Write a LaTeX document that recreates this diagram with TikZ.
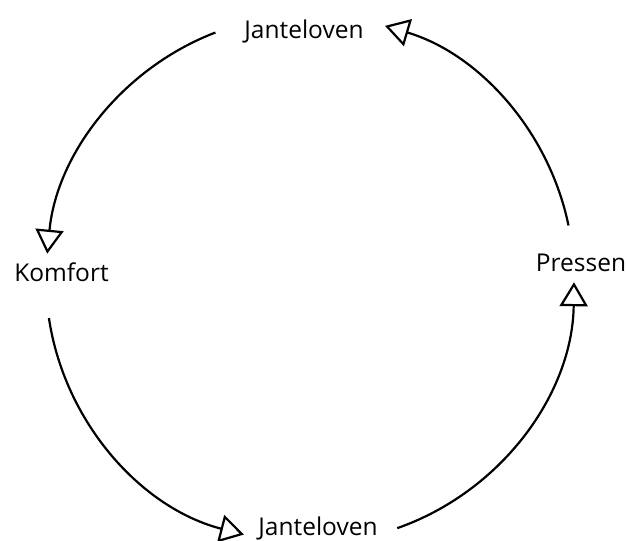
\documentclass[tikz,border=0pt]{standalone}
\usepackage{fontspec}
\setmainfont{Open Sans}
\usetikzlibrary{arrows.meta}
\begin{document}
\begin{tikzpicture}[x=1pt,y=1pt,
  lbl/.style={anchor=base,inner sep=0pt,font=\fontsize{24.5}{28}\selectfont},
  conn/.style={line width=2.2pt,-{Triangle[open,length=24pt,width=28pt,line width=2.2pt]}}]
\useasboundingbox (0,0) rectangle (627,541);
\coordinate (c) at (310,262);
\node[lbl] (jtop) at (304,502) {Janteloven};
\node[lbl] (komf) at (61.5,259) {Komfort};
\node[lbl] (pres) at (581,269) {Pressen};
\node[lbl] (jbot) at (318,5) {Janteloven};
\coordinate (s1) at ([shift={(111:264pt)}]c);
\coordinate (s2) at ([shift={(188.5:264pt)}]c);
\coordinate (s3) at ([shift={(289.3:264pt)}]c);
\coordinate (s4) at ([shift={(11.7:264pt)}]c);
\draw[conn] (s1) arc[start angle=111,end angle=174.5,radius=264pt];
\draw[conn] (s2) arc[start angle=188.5,end angle=255.5,radius=264pt];
\draw[conn] (s3) arc[start angle=289.3,end angle=359.3,radius=264pt];
\draw[conn] (s4) arc[start angle=11.7,end angle=73.5,radius=264pt];
\end{tikzpicture}
\end{document}
